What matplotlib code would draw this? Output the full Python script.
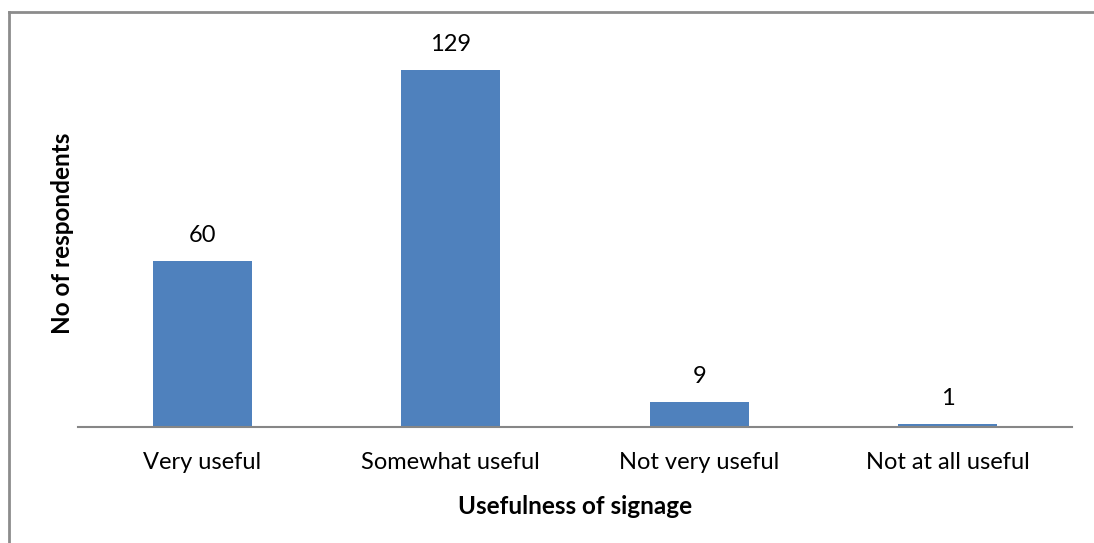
import matplotlib
matplotlib.use("Agg")
import matplotlib.pyplot as plt
from matplotlib.lines import Line2D

categories = ["Very useful", "Somewhat useful", "Not very useful", "Not at all useful"]
respondents = [60, 129, 9, 1]

W, H = 1094, 543
fig = plt.figure(figsize=(W / 100, H / 100), dpi=100)
plt.rcParams['font.family'] = ['Lato', 'DejaVu Sans']

# chart area outline (top and left edges fall inside the canvas)
border = dict(color='#8c8c8c', linewidth=2, transform=fig.transFigure)
fig.lines.append(Line2D([9 / W, 9 / W], [0, 1 - 12 / H], **border))
fig.lines.append(Line2D([9 / W, 1], [1 - 12 / H, 1 - 12 / H], **border))

ax = fig.add_axes([78 / W, (H - 427) / H, (1072 - 78) / W, (427 - 40) / H])
x = range(len(categories))
bars = ax.bar(x, respondents, width=0.4, color='#4f81bd', zorder=2)
for b, v in zip(bars, respondents):
    ax.annotate(str(v), (b.get_x() + b.get_width() / 2, v), xytext=(0, 11),
                textcoords='offset points', ha='center', va='bottom', fontsize=17)

ax.set_xlim(-0.5, len(categories) - 0.5)
ax.set_ylim(0, 140)
ax.set_xticks(list(x))
ax.set_xticklabels(categories, fontsize=17)
ax.tick_params(axis='x', length=0, pad=18)
ax.set_yticks([])
for s in ['top', 'right', 'left']:
    ax.spines[s].set_visible(False)
ax.spines['bottom'].set_color('#868686')
ax.spines['bottom'].set_linewidth(1.5)

ax.set_xlabel("Usefulness of signage", fontsize=17.5, fontweight='bold', labelpad=16)
fig.text(62 / W, 1 - 233 / H, "No of respondents", rotation=90, ha='center', va='center',
         fontsize=17.5, fontweight='bold')

fig.savefig("out.png", dpi=100, facecolor='white')
